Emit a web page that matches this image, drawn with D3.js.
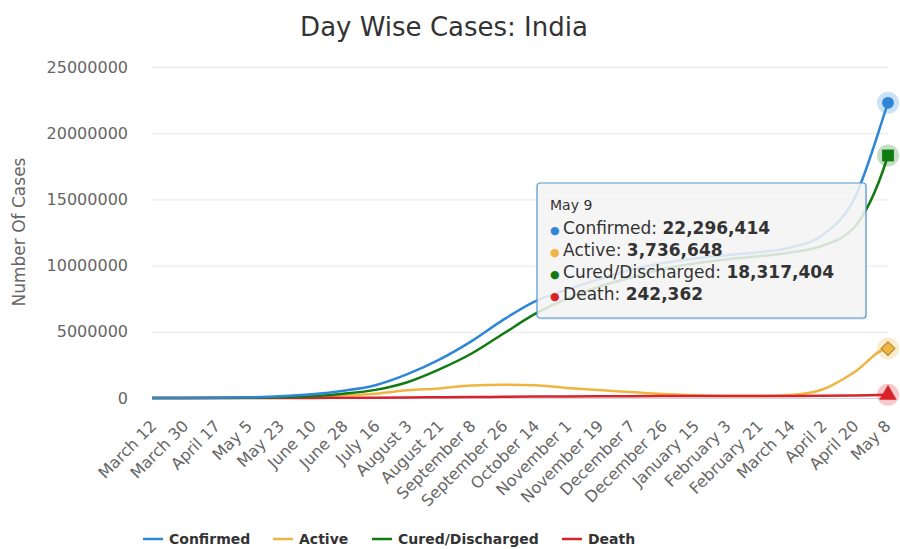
<!DOCTYPE html>
<html>
<head>
<meta charset="utf-8">
<script src="https://cdn.jsdelivr.net/npm/d3@7"></script>
<style>
  body { margin: 0; background: #fff; }
  #canvas { width: 900px; height: 549px; }
  text { font-family: "DejaVu Sans", Verdana, sans-serif; }
</style>
</head>
<body>
<div id="canvas"></div>
<script>
// categories (every 18th day is labelled, last point is May 9)
var categories = ["March 12", "March 30", "April 17", "May 5", "May 23", "June 10", "June 28",
  "July 16", "August 3", "August 21", "September 8", "September 26", "October 14",
  "November 1", "November 19", "December 7", "December 26", "January 15", "February 3",
  "February 21", "March 14", "April 2", "April 20", "May 8", "May 9"];
var dayIndex = [0, 18, 36, 54, 72, 90, 108, 126, 144, 162, 180, 198, 216,
  234, 252, 270, 288, 306, 324, 342, 360, 378, 396, 414, 415];
var tickLabels = categories.slice(0, 24);
var yTicks = [0, 5000000, 10000000, 15000000, 20000000, 25000000];

// series values
var confirmed = [70, 1200, 14000, 49000, 125000, 277000, 549000, 968000, 1800000, 2900000,
  4280000, 5900000, 7300000, 8180000, 8960000, 9680000, 10190000, 10530000, 10790000,
  11000000, 11360000, 12300000, 15060000, 21890000, 22296414];
var active = [60, 1100, 11000, 32000, 70000, 134000, 210000, 330000, 580000, 720000,
  950000, 1000000, 960000, 760000, 600000, 450000, 300000, 210000, 160000,
  150000, 220000, 640000, 1950000, 3720000, 3736648];
var cured = [0, 100, 2000, 15000, 52000, 135000, 321000, 613000, 1190000, 2160000,
  3340000, 4850000, 6350000, 7500000, 8400000, 9100000, 9750000, 10160000, 10480000,
  10700000, 10990000, 11500000, 12900000, 17900000, 18317404];
var death = [1, 30, 450, 1700, 3700, 7700, 16500, 24900, 38000, 55000,
  72000, 94000, 112000, 122000, 131000, 140000, 147000, 152000, 155000,
  156000, 158000, 163000, 180000, 238000, 242362];

var seriesNames = ["Confirmed", "Active", "Cured/Discharged", "Death"];
var seriesColors = ["#2f86d6", "#efb441", "#117a11", "#d9232b"];
var seriesValues = [confirmed, active, cured, death];

var margin = {top: 67, right: 12, bottom: 151, left: 152},
    width = 900 - margin.left - margin.right,
    height = 549 - margin.top - margin.bottom;

var svg = d3.select("#canvas")
  .append("svg")
  .attr("width", 900)
  .attr("height", 549);

var g = svg.append("g")
  .attr("transform", "translate(" + margin.left + "," + margin.top + ")");

var x = d3.scaleLinear().domain([0, 415]).range([0, width]);
var y = d3.scaleLinear().domain([0, 25000000]).range([height, 0]);

// title
svg.append("text")
  .attr("x", 444).attr("y", 36)
  .attr("text-anchor", "middle")
  .style("font-size", "26px")
  .style("fill", "#333")
  .text("Day Wise Cases: India");

// grid + y axis labels
var yAxis = g.append("g")
  .call(d3.axisLeft(y).tickValues(yTicks).tickSize(-width).tickFormat(d3.format("d")).tickPadding(24));
yAxis.select(".domain").remove();
yAxis.selectAll("line").attr("stroke", "#e6e6e6");
yAxis.selectAll("text").style("font-size", "16px").style("fill", "#666")
  .style("font-family", "DejaVu Sans, sans-serif");

svg.append("text")
  .attr("transform", "translate(25,232) rotate(-90)")
  .attr("text-anchor", "middle")
  .style("font-size", "17px")
  .style("fill", "#666")
  .text("Number Of Cases");

// x axis labels, rotated
var xAxis = g.append("g")
  .attr("transform", "translate(0," + height + ")")
  .call(d3.axisBottom(x).tickValues(dayIndex.slice(0, 24))
    .tickFormat(function(d, i) { return tickLabels[i]; }).tickSize(0));
xAxis.select(".domain").attr("stroke", "#ccd6eb");
xAxis.selectAll("text")
  .style("font-size", "16px").style("fill", "#666")
  .style("font-family", "DejaVu Sans, sans-serif")
  .attr("text-anchor", "end")
  .attr("y", 0)
  .attr("dy", "0.35em")
  .attr("transform", "translate(1,25) rotate(-45)");

// lines
var line = d3.line()
  .x(function(d) { return x(d[0]); })
  .y(function(d) { return y(d[1]); })
  .curve(d3.curveMonotoneX);

var order = [1, 3, 2, 0];
order.forEach(function(s) {
  var pts = dayIndex.map(function(d, i) { return [d, seriesValues[s][i]]; });
  g.append("path")
    .datum(pts)
    .attr("fill", "none")
    .attr("stroke", seriesColors[s])
    .attr("stroke-width", 2.5)
    .attr("d", line);
});

// hovered markers at the last point (diamond = rotated square)
var last = dayIndex.length - 1;
var symbols = [d3.symbolCircle, d3.symbolSquare, d3.symbolSquare, d3.symbolTriangle];
var symSize = [110, 95, 140, 130];
var symRot = [0, 45, 0, 0];
seriesValues.forEach(function(vals, s) {
  var cx = x(dayIndex[last]), cy = y(vals[last]);
  g.append("circle")
    .attr("cx", cx).attr("cy", cy).attr("r", 11)
    .attr("fill", seriesColors[s]).attr("opacity", 0.25);
  g.append("path")
    .attr("transform", "translate(" + cx + "," + cy + ") rotate(" + symRot[s] + ")")
    .attr("d", d3.symbol().type(symbols[s]).size(symSize[s]))
    .attr("fill", seriesColors[s])
    .attr("stroke", s === 1 ? "#a8802a" : "none")
    .attr("stroke-width", 1);
});

// tooltip
var fmt = d3.format(",");
var tip = svg.append("g").attr("transform", "translate(537,183)");
tip.append("rect")
  .attr("x", 1).attr("y", 2).attr("width", 329).attr("height", 135).attr("rx", 3)
  .attr("fill", "#000").attr("opacity", 0.08);
tip.append("rect")
  .attr("width", 329).attr("height", 135).attr("rx", 3)
  .attr("fill", "rgba(247,247,247,0.85)")
  .attr("stroke", "#4f95d4").attr("stroke-width", 1.2);
tip.append("text")
  .attr("x", 13).attr("y", 27)
  .style("font-size", "14px").style("fill", "#333")
  .text(categories[last]);
seriesValues.forEach(function(vals, s) {
  var t = tip.append("text")
    .attr("x", 13).attr("y", 51 + s * 22)
    .style("font-size", "17px").style("fill", "#333");
  t.append("tspan").style("fill", seriesColors[s]).style("font-size", "11px").text("\u25CF ");
  t.append("tspan").text(seriesNames[s] + ": ");
  t.append("tspan").style("font-weight", "bold").text(fmt(vals[last]));
});

// legend
var legendX = [143, 273, 372, 562];
var legend = svg.append("g");
seriesNames.forEach(function(n, s) {
  legend.append("line")
    .attr("x1", legendX[s]).attr("x2", legendX[s] + 20)
    .attr("y1", 539).attr("y2", 539)
    .attr("stroke", seriesColors[s]).attr("stroke-width", 2.5);
  legend.append("text")
    .attr("x", legendX[s] + 26).attr("y", 544)
    .style("font-size", "14px").style("font-weight", "bold").style("fill", "#333")
    .text(n);
});
</script>
</body>
</html>
